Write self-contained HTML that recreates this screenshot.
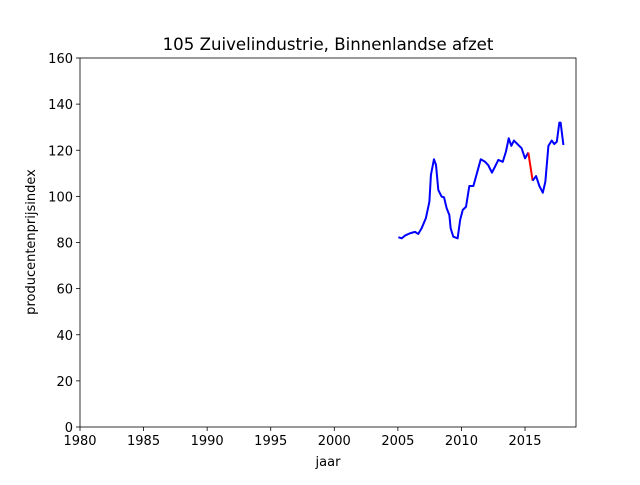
<!DOCTYPE html>
<html><head><meta charset="utf-8"><style>
body{margin:0;background:#fff;font-family:"Liberation Sans","DejaVu Sans",sans-serif;}
svg text{font-family:"DejaVu Sans","Liberation Sans",sans-serif;}
</style></head><body>
<svg id="chart" width="640" height="480" xmlns="http://www.w3.org/2000/svg">
<rect width="640" height="480" fill="#fff"/>
<g id="plot"></g>
<text x="328" y="50" text-anchor="middle" font-size="16.6">105 Zuivelindustrie, Binnenlandse afzet</text>
<text x="328" y="466" text-anchor="middle" font-size="13">jaar</text>
<text x="35" y="242" text-anchor="middle" font-size="13" transform="rotate(-90 35 242)">producentenprijsindex</text>
</svg>
<script>
const years=[2005.04,2005.3,2005.56,2005.96,2006.35,2006.6,2006.87,2007.2,2007.48,2007.6,2007.84,2008.0,2008.18,2008.44,2008.63,2008.84,2009.05,2009.15,2009.36,2009.7,2009.9,2010.1,2010.36,2010.62,2010.94,2011.25,2011.52,2011.86,2012.1,2012.4,2012.64,2012.9,2013.25,2013.5,2013.72,2013.92,2014.13,2014.47,2014.73,2015.0,2015.26];
const values=[82.3,81.8,83.0,84.0,84.6,83.7,86.2,90.5,97.7,109.3,116.1,113.6,102.8,99.9,99.6,94.8,91.9,86.2,82.5,81.8,89.8,94.1,95.5,104.5,104.5,110.7,116.1,115.0,113.6,110.3,112.9,115.8,115.0,119.4,125.2,121.9,124.2,122.3,120.9,116.5,119.0];
const redYears=[2015.26,2015.6];
const redValues=[119.0,106.8];
const years2=[2015.6,2015.87,2016.13,2016.4,2016.6,2016.84,2017.1,2017.3,2017.5,2017.7,2017.8,2018.02];
const values2=[106.8,108.8,104.5,101.6,106.4,121.9,124.2,122.7,123.7,132.0,132.0,122.3];
const xTicks=[1980,1985,1990,1995,2000,2005,2010,2015];
const yTicks=[0,20,40,60,80,100,120,140,160];
const X0=80,X1=576,Y0=427,Y1=58,xmin=1980,xmax=2019.01,ymin=0,ymax=160;
const xs=v=>X0+(v-xmin)/(xmax-xmin)*(X1-X0);
const ys=v=>Y0-(v-ymin)/(ymax-ymin)*(Y0-Y1);
const NS="http://www.w3.org/2000/svg",g=document.getElementById('plot');
function mk(t,a){const e=document.createElementNS(NS,t);for(const k in a)e.setAttribute(k,a[k]);g.appendChild(e);return e;}
xTicks.forEach(t=>{const x=xs(t);
const l=mk('line',{x1:x,x2:x,y1:Y0,y2:Y0+4,stroke:'#000','stroke-width':0.8});


const tx=mk('text',{x:x,y:Y0+18,'text-anchor':'middle','font-size':13});tx.textContent=t;

});
yTicks.forEach(t=>{const y=ys(t);
const l=mk('line',{x1:X0-4,x2:X0,y1:y,y2:y,stroke:'#000','stroke-width':0.8});


const tx=mk('text',{x:X0-7,y:y+5,'text-anchor':'end','font-size':13});tx.textContent=t;

});
function line(xa,ya,c,name){const p=mk('polyline',{points:xa.map((v,i)=>xs(v)+','+ys(ya[i])).join(' '),fill:'none',stroke:c,'stroke-width':2,'stroke-linejoin':'round'});

}
line(years,values,'#0000ff','series-line-1');
line(redYears,redValues,'#ff0000','series-line-red');
line(years2,values2,'#0000ff','series-line-2');
const fr=mk('rect',{x:X0,y:Y1,width:X1-X0,height:Y0-Y1,fill:'none',stroke:'#000','stroke-width':0.8});


</script>
</body></html>
